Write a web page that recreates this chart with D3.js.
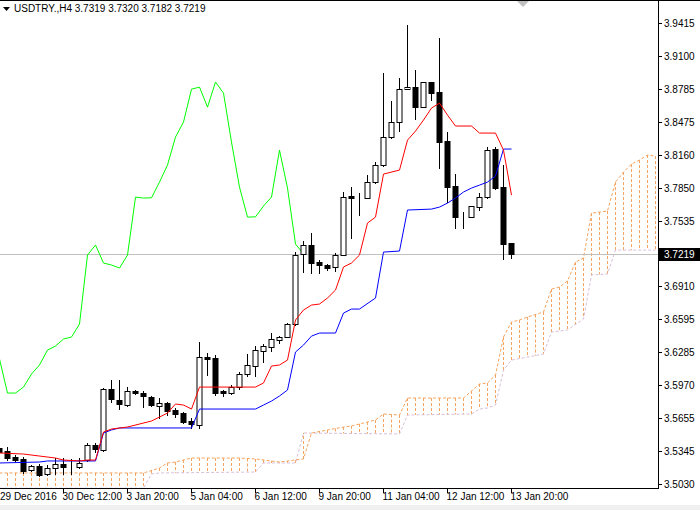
<!DOCTYPE html>
<html><head><meta charset="utf-8">
<script src="https://cdnjs.cloudflare.com/ajax/libs/d3/7.8.5/d3.min.js"></script>
<style>body{margin:0;background:#fff}svg{display:block}text{font-family:"Liberation Sans",Arial,sans-serif;font-size:10px;fill:#000}</style>
</head><body><svg id="c" width="700" height="510"></svg>
<script>
// Candles, bar index -1..63 (H4 bars)
const barIdx = d3.range(-1, 64);
const open  = [3.5372,3.5344,3.5287,3.5268,3.5163,3.5201,3.5125,3.5182,3.5220,3.5201,3.5192,3.5258,3.5401,3.5353,3.5933,3.5829,3.5781,3.5914,3.5895,3.5857,3.5772,3.5800,3.5734,3.5705,3.5629,3.5591,3.6238,3.6228,3.5914,3.5895,3.5952,3.6076,3.6152,3.6295,3.6333,3.6399,3.6428,3.6552,3.7217,3.7303,3.7141,3.7113,3.7094,3.7208,3.7769,3.7750,3.7750,3.7902,3.8064,3.8330,3.8473,3.8786,3.8805,3.8615,3.8853,3.8758,3.8292,3.7864,3.7569,3.7569,3.7664,3.7759,3.8216,3.7854,3.7319];
const high  = [3.5391,3.5382,3.5306,3.5287,3.5211,3.5220,3.5211,3.5277,3.5277,3.5268,3.5277,3.5420,3.5420,3.5943,3.6019,3.6019,3.5952,3.5924,3.5914,3.5867,3.5848,3.5810,3.5753,3.5715,3.5658,3.6380,3.6276,3.6257,3.5924,3.5971,3.6095,3.6266,3.6342,3.6361,3.6466,3.6437,3.6561,3.7236,3.7341,3.7417,3.7160,3.7122,3.7227,3.7807,3.7854,3.7797,3.7969,3.8092,3.8939,3.8672,3.8891,3.9395,3.8967,3.8853,3.8855,3.9271,3.8378,3.7978,3.7617,3.7676,3.7797,3.8235,3.8235,3.8064,3.7320];
const low   = [3.5315,3.5258,3.5249,3.5135,3.5154,3.5106,3.5116,3.5125,3.5125,3.5125,3.5182,3.5249,3.5334,3.5344,3.5810,3.5743,3.5772,3.5886,3.5762,3.5772,3.5658,3.5686,3.5667,3.5610,3.5563,3.5563,3.6067,3.5876,3.5867,3.5886,3.5933,3.6057,3.6057,3.6190,3.6295,3.6371,3.6428,3.6542,3.7046,3.7037,3.7037,3.7065,3.7056,3.7208,3.7369,3.7588,3.7750,3.7893,3.8054,3.8321,3.8387,3.8786,3.8501,3.8615,3.8682,3.8035,3.7712,3.7465,3.7465,3.7569,3.7636,3.7750,3.7835,3.7170,3.7182];
const close = [3.5334,3.5277,3.5258,3.5154,3.5201,3.5116,3.5182,3.5220,3.5192,3.5203,3.5230,3.5401,3.5363,3.5933,3.5838,3.5791,3.5914,3.5895,3.5867,3.5781,3.5800,3.5724,3.5696,3.5620,3.5601,3.6238,3.6219,3.5895,3.5895,3.5952,3.6076,3.6162,3.6304,3.6342,3.6409,3.6428,3.6552,3.7208,3.7303,3.7132,3.7113,3.7084,3.7208,3.7759,3.7750,3.7752,3.7902,3.8064,3.8330,3.8473,3.8786,3.8805,3.8615,3.8853,3.8748,3.8282,3.7854,3.7569,3.7571,3.7674,3.7759,3.8206,3.7845,3.7312,3.7219];

// Tenkan-sen (red), vertices
const tenkanIdx = [-1,2,6,7,9,10,11,12,13,15,18,20,21,22,23,24,31,32,33,34,35,36,37,38,39,40,41,42,43,44,45,46,47,49,50,51,52,53,54,55,56,58,59,61,62,63];
const tenkanVal = [3.5325,3.5315,3.5277,3.5258,3.5249,3.5258,3.5258,3.5525,3.5553,3.5572,3.5629,3.5705,3.5791,3.5781,3.5743,3.5952,3.5952,3.5991,3.6152,3.6162,3.6209,3.6590,3.6685,3.6732,3.6742,3.6799,3.6875,3.7094,3.7132,3.7208,3.7512,3.7569,3.7978,3.8016,3.8301,3.8387,3.8492,3.8606,3.8653,3.8539,3.8435,3.8435,3.8368,3.8368,3.8206,3.7778];
// Kijun-sen (blue)
const kijunIdx = [-1,4,5,11,12,13,14,23,24,31,32,33,34,35,36,37,38,39,41,42,43,44,46,47,49,50,53,54,55,56,57,58,59,60,61,62,63];
const kijunVal = [3.5230,3.5239,3.5249,3.5249,3.5515,3.5544,3.5563,3.5563,3.5743,3.5743,3.5781,3.5819,3.5867,3.5924,3.6285,3.6352,3.6437,3.6466,3.6466,3.6656,3.6694,3.6694,3.6799,3.7236,3.7246,3.7636,3.7645,3.7664,3.7702,3.7750,3.7807,3.7845,3.7873,3.7902,3.7959,3.8216,3.8216];
// Senkou Span A (sandy brown, dashed)
const spanAIdx = [-1,17,19,20,21,23,29,31,34,35,37,38,40,42,43,45,46,47,49,50,57,59,60,61,62,63,64,65,67,68,69,70,71,72,73,75,76,77,78,79,80,81];
const spanAVal = [3.5135,3.5135,3.5182,3.5230,3.5239,3.5277,3.5277,3.5268,3.5239,3.5249,3.5268,3.5515,3.5544,3.5572,3.5582,3.5620,3.5639,3.5696,3.5686,3.5848,3.5848,3.5981,3.5991,3.6067,3.6428,3.6571,3.6590,3.6618,3.6666,3.6884,3.6903,3.6961,3.7141,3.7179,3.7607,3.7626,3.7902,3.7997,3.8073,3.8111,3.8159,3.8149];
// Senkou Span B (thistle, dashed)
const spanBIdx = [-1,17,18,19,31,32,36,37,49,50,58,59,60,61,62,63,67,68,70,72,73,75,76,81];
const spanBVal = [3.4990,3.4990,3.5125,3.5135,3.5144,3.5230,3.5230,3.5515,3.5506,3.5686,3.5696,3.5743,3.5753,3.5781,3.6114,3.6209,3.6266,3.6476,3.6495,3.6599,3.7018,3.7027,3.7255,3.7255];

const priceTicks = [3.9415,3.9100,3.8785,3.8475,3.8160,3.7850,3.7535,3.6910,3.6595,3.6285,3.5970,3.5655,3.5345,3.5030];
const timeTickIdx = [-1,7,15,23,31,39,47,55,63];
const timeTickLbl = ["29 Dec 2016","30 Dec 12:00","3 Jan 20:00","5 Jan 04:00","6 Jan 12:00","9 Jan 20:00","11 Jan 04:00","12 Jan 12:00","13 Jan 20:00"];
const title = "USDTRY.,H4  3.7319 3.7320 3.7182 3.7219";
const lastPrice = 3.7219;

const svg = d3.select("#c");
const R = 658, B = 488;
const x = d3.scaleLinear().domain([0,63]).range([7,511]);
const y = d3.scaleLinear().domain([3.5030,3.9415]).range([484,23]);

svg.append("rect").attr("width",700).attr("height",510).attr("fill","#fff");
svg.append("rect").attr("x",0).attr("y",505).attr("width",700).attr("height",5).attr("fill","#f0f0f0");
svg.append("defs").append("clipPath").attr("id","clp").append("rect").attr("x",0).attr("y",1).attr("width",R).attr("height",B-1);
const g = svg.append("g").attr("clip-path","url(#clp)");

// cloud hatch
const aS = d3.scaleLinear().domain(spanAIdx).range(spanAVal);
const bS = d3.scaleLinear().domain(spanBIdx).range(spanBVal);
const hatch = d3.range(-1, 82);
g.selectAll("line.h").data(hatch).join("line")
 .attr("x1",d=>x(d)+0.5).attr("x2",d=>x(d)+0.5)
 .attr("y1",d=>y(aS(d))).attr("y2",d=>y(bS(d)))
 .attr("stroke","#F4A460").attr("stroke-dasharray","3,2").attr("stroke-width",1);
const ln = (ix, vs) => d3.line().x((d,i)=>x(ix[i])+0.5).y(d=>y(d))(vs);
g.append("path").attr("d",ln(spanBIdx,spanBVal)).attr("fill","none").attr("stroke","#D8BFD8").attr("stroke-dasharray","3,2");
g.append("path").attr("d",ln(spanAIdx,spanAVal)).attr("fill","none").attr("stroke","#F4A460").attr("stroke-dasharray","3,2");

// last price line
g.append("line").attr("x1",0).attr("x2",R).attr("y1",Math.round(y(lastPrice))+0.5).attr("y2",Math.round(y(lastPrice))+0.5).attr("stroke","#c0c0c0");

// chikou = closes shifted 26 back
const chIdx = barIdx.filter(i=>i+26<=63);
const chVal = chIdx.map(i=>close[i+26+1]);
g.append("path").attr("d",ln(chIdx,chVal)).attr("fill","none").attr("stroke","#00ff00");

// candles
const cd = barIdx.map((k,i)=>({k,o:open[i],h:high[i],l:low[i],c:close[i]}));
const cg = g.append("g");
cg.selectAll("line.w").data(cd).join("line")
 .attr("x1",d=>x(d.k)+0.5).attr("x2",d=>x(d.k)+0.5)
 .attr("y1",d=>Math.round(y(d.h))).attr("y2",d=>Math.round(y(d.l))+1).attr("stroke","#000");
cg.selectAll("rect").data(cd).join("rect")
 .attr("x",d=>x(d.k)-2.5+0.5).attr("width",5)
 .attr("y",d=>Math.round(y(Math.max(d.o,d.c)))+0.5)
 .attr("height",d=>Math.max(0,Math.round(y(Math.min(d.o,d.c)))-Math.round(y(Math.max(d.o,d.c)))))
 .attr("fill",d=>d.c>=d.o?"#fff":"#000").attr("stroke","#000");

g.append("path").attr("d",ln(kijunIdx,kijunVal)).attr("fill","none").attr("stroke","#0000ff");
g.append("path").attr("d",ln(tenkanIdx,tenkanVal)).attr("fill","none").attr("stroke","#ff0000");

// frame
svg.append("line").attr("x1",0).attr("x2",700).attr("y1",0.5).attr("y2",0.5).attr("stroke","#000");
svg.append("line").attr("x1",R+0.5).attr("x2",R+0.5).attr("y1",0).attr("y2",B+1).attr("stroke","#000");
svg.append("line").attr("x1",0).attr("x2",R+1).attr("y1",B+0.5).attr("y2",B+0.5).attr("stroke","#000");
// shift marker
svg.append("path").attr("d","M517,1L529,1L523,7Z").attr("fill","#c0c0c0");

// price axis
const ya = svg.append("g");
priceTicks.forEach(p=>{
  const yy=Math.round(y(p))+0.5;
  ya.append("line").attr("x1",R).attr("x2",R+4).attr("y1",yy).attr("y2",yy).attr("stroke","#000");
  ya.append("text").attr("x",664).attr("y",yy+3.5).text(p.toFixed(4));
});
const ly = Math.round(y(lastPrice));
svg.append("rect").attr("x",R+1).attr("y",ly-6).attr("width",41).attr("height",13).attr("fill","#000");
svg.append("text").attr("x",664).attr("y",ly+4).style("fill","#fff").text(lastPrice.toFixed(4));

// time axis
timeTickIdx.forEach((k,i)=>{
  const xx=Math.round(x(k))+0.5;
  svg.append("line").attr("x1",xx).attr("x2",xx).attr("y1",B).attr("y2",B+5).attr("stroke","#000");
  svg.append("text").attr("x",Math.max(0,xx-1)).attr("y",500).text(timeTickLbl[i]);
});

// title
svg.append("path").attr("d","M3,7L10,7L6.5,11Z").attr("fill","#000");
svg.append("text").attr("x",14).attr("y",12).text(title);
</script></body></html>
